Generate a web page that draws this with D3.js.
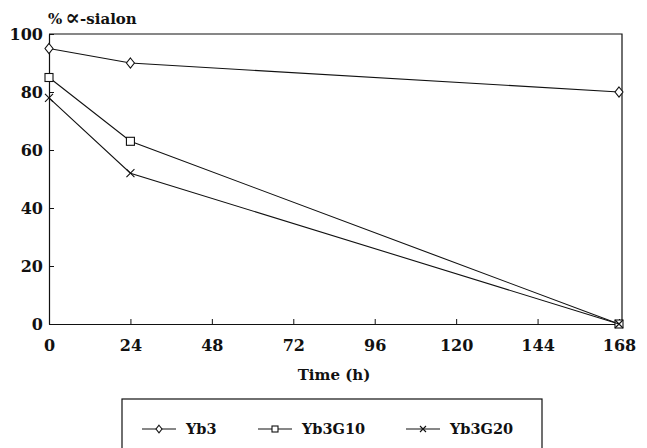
<!DOCTYPE html>
<html>
<head>
<meta charset="utf-8">
<script src="https://cdn.jsdelivr.net/npm/d3@7"></script>
<style>
  body { margin: 0; background: #fff; overflow: hidden; }
  text { font-family: "DejaVu Serif", serif; font-weight: bold; fill: #111; }
</style>
</head>
<body>
<script>
var times = [0, 24, 168];
var yb3 = [95, 90, 80];
var yb3g10 = [85, 63, 0];
var yb3g20 = [78, 52, 0];
var seriesNames = ['Yb3', 'Yb3G10', 'Yb3G20'];
var seriesSymbols = ['diamond', 'square', 'cross'];
var xTicks = [0, 24, 48, 72, 96, 120, 144, 168];
var yTicks = [0, 20, 40, 60, 80, 100];

var series = [yb3, yb3g10, yb3g20].map(function (vals, i) {
    return {
        name: seriesNames[i],
        symbol: seriesSymbols[i],
        values: vals.map(function (v, j) { return { t: times[j], v: v }; })
    };
});

var svg = d3.select('body').append('svg')
    .attr('width', 647)
    .attr('height', 448)
    .style('display', 'block');

var x = d3.scaleLinear().domain([0, 168]).range([49, 619]);
var y = d3.scaleLinear().domain([0, 100]).range([324, 34]);

// frame: top and right sides
svg.append('path')
    .attr('d', 'M' + x(0) + ',' + y(100) + 'H' + (x(168) + 3) + 'V' + y(0))
    .attr('fill', 'none')
    .attr('stroke', '#111')
    .attr('stroke-width', 1.2);

var xAxis = svg.append('g')
    .attr('transform', 'translate(0,' + y(0) + ')')
    .call(d3.axisBottom(x).tickValues(xTicks).tickSize(-5).tickPadding(16).tickSizeOuter(0));
var yAxis = svg.append('g')
    .attr('transform', 'translate(' + x(0) + ',0)')
    .call(d3.axisLeft(y).tickValues(yTicks).tickSize(-5).tickPadding(6).tickSizeOuter(0));

[xAxis, yAxis].forEach(function (a) {
    a.attr('font-family', null).attr('font-size', null);
    a.select('.domain').attr('stroke', '#111').attr('stroke-width', 1.2);
    a.selectAll('.tick line').attr('stroke', '#111');
    a.selectAll('.tick text')
        .attr('font-size', 16)
        .attr('fill', '#111');
});

var title = svg.append('text')
    .attr('x', 48)
    .attr('y', 24)
    .attr('font-size', 15);
title.append('tspan').text('%');
title.append('tspan').attr('dx', 3).attr('font-size', 22).attr('dy', 1).text('\u221D');
title.append('tspan').attr('dy', -1).text('-sialon');

svg.append('text')
    .attr('x', (x(0) + x(168)) / 2)
    .attr('y', 380)
    .attr('text-anchor', 'middle')
    .attr('font-size', 15)
    .text('Time (h)');

function drawSymbol(g, type, cx, cy, k) {
    k = k || 1;
    if (type === 'diamond') {
        g.append('path')
            .attr('d', 'M' + cx + ',' + (cy - 5 * k) + 'L' + (cx + 4 * k) + ',' + cy + 'L' + cx + ',' + (cy + 5 * k) + 'L' + (cx - 4 * k) + ',' + cy + 'Z')
            .attr('fill', '#fff').attr('stroke', '#111').attr('stroke-width', 1.1);
    } else if (type === 'square') {
        g.append('rect')
            .attr('x', cx - 4 * k).attr('y', cy - 4 * k).attr('width', 8 * k).attr('height', 8 * k)
            .attr('fill', '#fff').attr('stroke', '#111').attr('stroke-width', 1.1);
    } else {
        g.append('path')
            .attr('d', 'M' + (cx - 4 * k) + ',' + (cy - 4 * k) + 'L' + (cx + 4 * k) + ',' + (cy + 4 * k) + 'M' + (cx + 4 * k) + ',' + (cy - 4 * k) + 'L' + (cx - 4 * k) + ',' + (cy + 4 * k))
            .attr('fill', 'none').attr('stroke', '#111').attr('stroke-width', 1.1);
    }
}

var line = d3.line()
    .x(function (d) { return x(d.t); })
    .y(function (d) { return y(d.v); });

series.forEach(function (s) {
    var g = svg.append('g').attr('class', 'series');
    g.append('path')
        .datum(s.values)
        .attr('d', line)
        .attr('fill', 'none')
        .attr('stroke', '#111')
        .attr('stroke-width', 1.1);
    s.values.forEach(function (d) {
        drawSymbol(g, s.symbol, x(d.t), y(d.v));
    });
});

// legend (box runs past the bottom edge of the picture)
var legend = svg.append('g');
legend.append('rect')
    .attr('x', 122).attr('y', 399)
    .attr('width', 420).attr('height', 60)
    .attr('fill', 'none').attr('stroke', '#111').attr('stroke-width', 1.2);

var legendX = [142, 258, 406];
series.forEach(function (s, i) {
    var lx = legendX[i], ly = 429;
    legend.append('line')
        .attr('x1', lx).attr('x2', lx + 34)
        .attr('y1', ly).attr('y2', ly)
        .attr('stroke', '#111').attr('stroke-width', 1.1);
    drawSymbol(legend, s.symbol, lx + 17, ly, 0.75);
    legend.append('text')
        .attr('x', lx + 44)
        .attr('y', ly + 5)
        .attr('font-size', 14.5)
        .text(s.name);
});
</script>
</body>
</html>
